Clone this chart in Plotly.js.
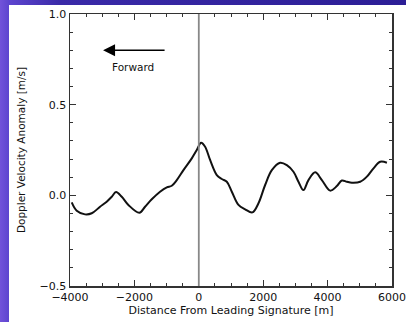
<!DOCTYPE html>
<html><head><meta charset="utf-8">
<script src="https://cdn.plot.ly/plotly-3.0.1.min.js"></script>
<style>
html,body{margin:0;padding:0;width:406px;height:322px;overflow:hidden;}
body{background:linear-gradient(90deg,#7253da 0px,#5d45cf 9px,#3a2aa8 60px,#2c1e96 406px);}
#frame{position:absolute;left:9px;top:5px;width:397px;height:317px;background:#fff;}
#chart{width:397px;height:317px;}
</style></head>
<body><div id="frame"><div id="chart"></div></div>
<script>
const distance = [-3946,-3791,-3533,-3325,-3067,-2860,-2704,-2570,-2393,-2187,-1845,-1669,-1461,-1203,-994,-839,-684,-477,-218,-62,72,196,351,559,715,870,1025,1232,1439,1666,1853,2060,2268,2526,2734,2940,3095,3250,3406,3614,3822,4080,4288,4443,4599,4754,5012,5220,5426,5634,5842];
const velocity = [-0.039,-0.085,-0.105,-0.099,-0.063,-0.035,-0.008,0.018,-0.008,-0.053,-0.096,-0.063,-0.022,0.020,0.044,0.053,0.084,0.139,0.204,0.25,0.29,0.268,0.195,0.112,0.09,0.075,0.020,-0.053,-0.077,-0.094,-0.044,0.057,0.139,0.18,0.167,0.130,0.075,0.029,0.084,0.127,0.084,0.026,0.051,0.082,0.075,0.07,0.075,0.103,0.149,0.185,0.18];
const xTicks = [-4000,-2000,0,2000,4000,6000];
const yTicks = [-0.5,0.0,0.5,1.0];
const yTickText = ['\u22120.5','0.0','0.5','1.0'];
const markerX = 0;
const arrowTail = [-1016, 0.8];
const arrowTip = [-2974, 0.8];
const forwardLabel = {x: -2030, y: 0.708, text: 'Forward'};

const font = {family: 'DejaVu Sans, sans-serif', size: 11, color: '#111'};
const axisCommon = {
  showgrid: false, zeroline: false, showline: true, linecolor: '#333', linewidth: 1.5,
  mirror: 'allticks', ticks: 'inside', ticklen: 6, tickwidth: 1.2, tickcolor: '#333',
  tickfont: font
};
const layout = {
  width: 397, height: 317,
  margin: {l: 61, r: 14, t: 9, b: 36},
  paper_bgcolor: '#fff', plot_bgcolor: '#fff',
  showlegend: false, font: font,
  xaxis: Object.assign({}, axisCommon, {
    range: [-4000, 6000], tickvals: xTicks,
    minor: {dtick: 500, ticks: 'inside', ticklen: 3, tickcolor: '#333', tickwidth: 1},
    title: {text: 'Distance From Leading Signature [m]', font: font, standoff: 1}
  }),
  yaxis: Object.assign({}, axisCommon, {
    range: [-0.5, 1.0], tickvals: yTicks, ticktext: yTickText,
    minor: {dtick: 0.1, ticks: 'inside', ticklen: 3, tickcolor: '#333', tickwidth: 1},
    title: {text: 'Doppler Velocity Anomaly [m/s]', font: {family: font.family, size: 10.5, color: '#111'}, standoff: 12}
  }),
  shapes: [{type: 'line', xref: 'x', yref: 'paper', x0: markerX, x1: markerX, y0: 0, y1: 1,
            line: {color: '#888', width: 1.8}}],
  annotations: [
    {x: arrowTip[0], y: arrowTip[1], ax: arrowTail[0], ay: arrowTail[1], xref: 'x', yref: 'y',
     axref: 'x', ayref: 'y', showarrow: true, arrowhead: 2, arrowsize: 1.6, arrowwidth: 1.5,
     arrowcolor: '#000', text: ''},
    {x: forwardLabel.x, y: forwardLabel.y, xref: 'x', yref: 'y', text: forwardLabel.text,
     showarrow: false, font: {family: font.family, size: 10.5, color: '#111'}}
  ]
};
Plotly.newPlot('chart', [{
  x: distance, y: velocity, type: 'scatter', mode: 'lines',
  line: {color: '#111', width: 2, shape: 'spline', smoothing: 1}
}], layout, {displayModeBar: false, staticPlot: true});
</script></body></html>
